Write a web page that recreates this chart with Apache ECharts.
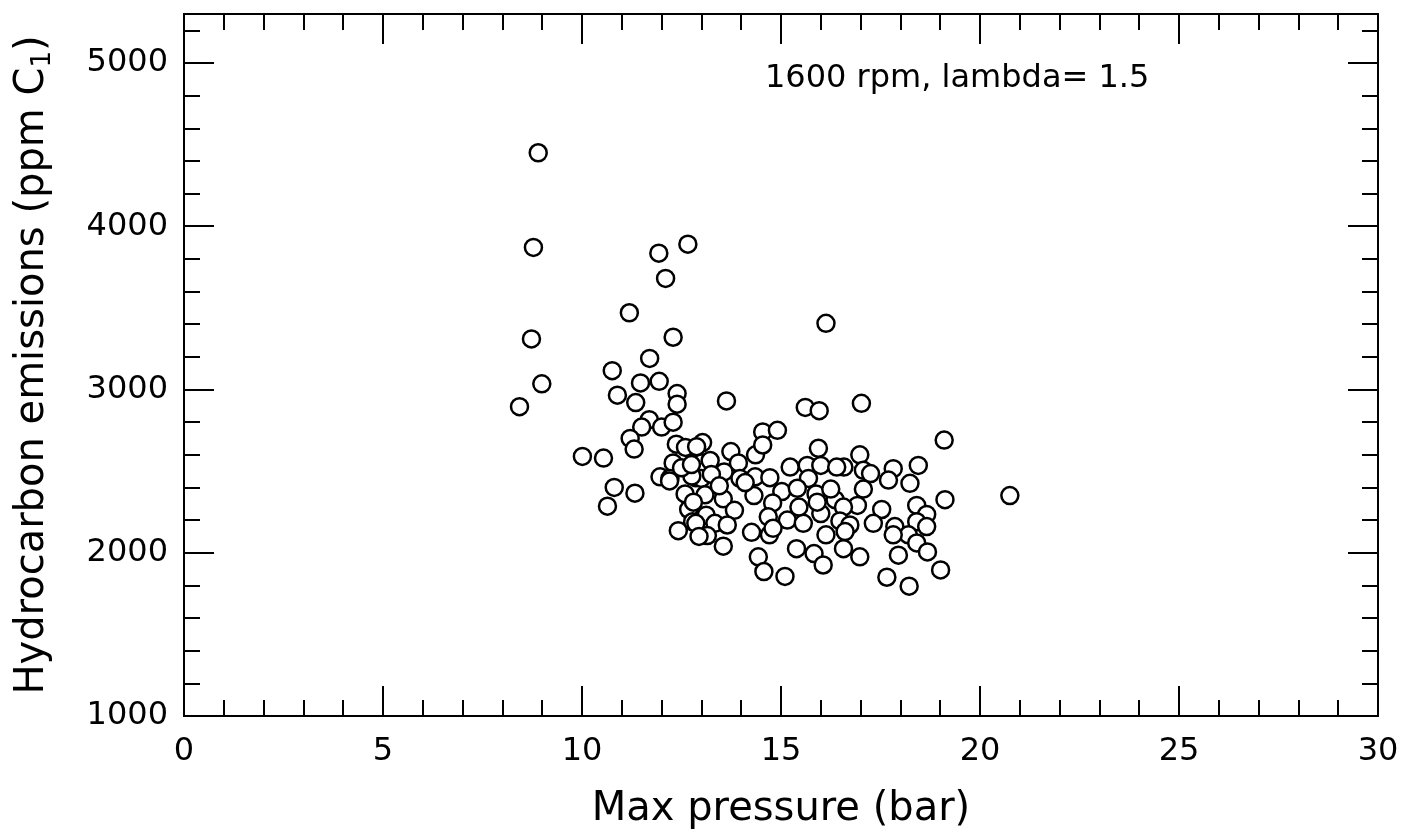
<!DOCTYPE html>
<html><head><meta charset="utf-8">
<script src="https://cdn.jsdelivr.net/npm/echarts@6/dist/echarts.min.js"></script>
<style>html,body{margin:0;padding:0;background:#fff}#c{width:1418px;height:834px}</style>
</head><body><div id="c"></div>
<script>
// Max pressure (bar)
const pressure = [
  8.90, 8.78, 11.93, 12.66, 12.10, 11.19, 8.73, 12.29, 11.70, 8.99,
  10.76, 11.47, 11.94, 12.39, 12.39, 10.89, 11.35, 13.63, 8.43, 11.69,
  11.50, 12.00, 12.29, 11.21, 11.31, 10.01, 10.54, 12.37, 12.60, 12.29,
  11.96, 12.21, 10.81, 11.33, 10.64, 12.59, 12.68, 12.78, 12.42, 12.86,
  15.61, 15.96, 14.54, 14.91, 15.94, 13.03, 13.74, 14.36, 13.93, 14.54,
  13.00, 13.22, 15.23, 15.66, 16.00, 13.57, 13.00, 13.97, 14.35, 14.72,
  15.69, 15.02, 15.41, 15.88, 13.09, 13.55, 14.32, 14.79, 13.83, 13.12,
  13.34, 13.65, 14.68, 15.16, 15.56, 16.00, 15.91, 14.26, 14.71, 13.15,
  13.55, 15.39, 15.83, 14.43, 14.57, 15.10, 16.06, 17.02, 19.10, 16.98,
  16.58, 16.40, 17.07, 17.25, 17.82, 18.45, 17.70, 18.24, 17.07, 19.12,
  16.36, 16.92, 16.57, 17.53, 18.41, 18.66, 16.48, 17.32, 17.86, 18.41,
  18.66, 16.73, 16.13, 16.61, 18.20, 17.82, 18.41, 16.57, 16.98, 17.95,
  18.68, 19.01, 17.66, 18.22, 20.75, 16.13, 12.88, 12.80, 12.86, 12.94,
  12.76, 12.20, 12.50, 14.80, 12.75, 13.25, 13.45, 14.10, 15.45, 16.25
];
// Hydrocarbon emissions (ppm C1)
const hcEmissions = [
  4450, 3870, 3835, 3890, 3680, 3470, 3310, 3320, 3190, 3035,
  3115, 3040, 3050, 2975, 2910, 2965, 2920, 2930, 2895, 2815,
  2770, 2770, 2800, 2700, 2635, 2590, 2580, 2665, 2645, 2550,
  2465, 2455, 2400, 2365, 2285, 2360, 2265, 2190, 2135, 2460,
  2890, 2870, 2740, 2750, 2640, 2675, 2620, 2600, 2550, 2660,
  2550, 2565, 2525, 2535, 2535, 2495, 2455, 2455, 2465, 2460,
  2455, 2375, 2395, 2360, 2355, 2330, 2350, 2305, 2260, 2230,
  2180, 2170, 2220, 2200, 2180, 2240, 2310, 2125, 2110, 2105,
  2040, 2025, 1995, 1975, 1885, 1855, 1925, 2915, 2690, 2600,
  2525, 2525, 2505, 2485, 2515, 2535, 2445, 2425, 2390, 2325,
  2325, 2290, 2280, 2265, 2290, 2235, 2195, 2180, 2160, 2190,
  2160, 2170, 2110, 2130, 2110, 2110, 2060, 2025, 1975, 1985,
  2005, 1895, 1850, 1795, 2350, 3405, 2650, 2310, 2180, 2100,
  2470, 2440, 2520, 2150, 2540, 2480, 2410, 2430, 2280, 2390
];
const xTickLabels = [0, 5, 10, 15, 20, 25, 30];
const yTickLabels = [1000, 2000, 3000, 4000, 5000];
const xTitle = 'Max pressure (bar)';
const yTitle = 'Hydrocarbon emissions (ppm C{sub|1})';
const note = '1600 rpm, lambda= 1.5';

const FONT = 'DejaVu Sans';
const BLACK = '#000';
const points = pressure.map((p, i) => [p, hcEmissions[i]]);

const lineSty = {color: BLACK, width: 2};
function xAx(pos, showLabel) {
  return {
    type: 'value', position: pos, min: 0, max: 30, interval: 5,
    axisLine: {show: true, onZero: false, lineStyle: lineSty},
    axisTick: {show: true, inside: true, length: 30, lineStyle: lineSty},
    minorTick: {show: true, splitNumber: 5, length: 16, lineStyle: lineSty},
    splitLine: {show: false}, minorSplitLine: {show: false},
    axisLabel: {
      show: showLabel, color: BLACK, fontFamily: FONT, fontSize: 32, margin: 20,
      formatter: v => xTickLabels.includes(v) ? String(v) : ''
    },
    name: showLabel ? xTitle : '',
    nameLocation: 'middle', nameGap: 74,
    nameTextStyle: {color: BLACK, fontFamily: FONT, fontSize: 40}
  };
}
function yAx(pos, major, showLabel) {
  const o = {
    type: 'value', position: pos, min: 1000, max: 5300, interval: major ? 1000 : 200,
    axisLine: {show: true, onZero: false, lineStyle: lineSty},
    axisTick: {show: true, inside: true, length: major ? 30 : 16, lineStyle: lineSty},
    splitLine: {show: false},
    axisLabel: {
      show: showLabel, color: BLACK, fontFamily: FONT, fontSize: 32, margin: 16,
      formatter: v => yTickLabels.includes(v) ? String(v) : ''
    }
  };
  if (showLabel) {
    o.name = yTitle;
    o.nameLocation = 'middle';
    o.nameGap = 128;
    o.nameRotate = 90;
    o.nameTextStyle = {
      color: BLACK, fontFamily: FONT, fontSize: 40, lineHeight: 46,
      rich: {sub: {fontFamily: FONT, fontSize: 26, lineHeight: 24, verticalAlign: 'bottom', color: BLACK}}
    };
  }
  return o;
}

const chart = echarts.init(document.getElementById('c'), null, {renderer: 'canvas'});
chart.setOption({
  animation: false,
  backgroundColor: '#fff',
  grid: {left: 184, right: 40, top: 14, bottom: 118, containLabel: false, outerBoundsMode: 'none'},
  xAxis: [xAx('bottom', true), xAx('top', false)],
  yAxis: [yAx('left', true, true), yAx('left', false, false), yAx('right', true, false), yAx('right', false, false)],
  graphic: [{
    type: 'text', left: 765, top: 63,
    style: {text: note, fontFamily: FONT, fontSize: 32, fill: BLACK}
  }],
  series: [{
    type: 'scatter', xAxisIndex: 0, yAxisIndex: 0,
    data: points,
    symbol: 'circle', symbolSize: 17,
    itemStyle: {color: '#fff', borderColor: BLACK, borderWidth: 2.5, opacity: 1},
    emphasis: {disabled: true}
  }]
});
</script></body></html>
